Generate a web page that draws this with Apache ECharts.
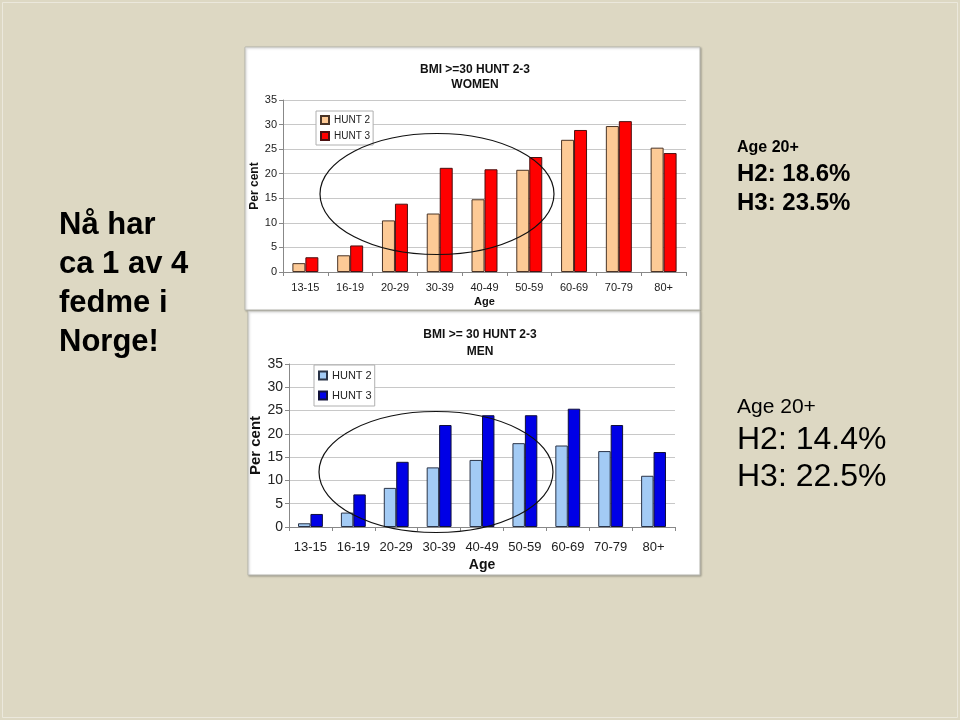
<!DOCTYPE html>
<html><head><meta charset="utf-8">
<script src="https://cdn.jsdelivr.net/npm/echarts@6/dist/echarts.min.js"></script>
<style>html,body{margin:0;padding:0;background:#ddd8c3}#c{width:960px;height:720px}</style>
</head><body><div id="c"></div>
<script>
const categories = ['13-15','16-19','20-29','30-39','40-49','50-59','60-69','70-79','80+'];
const womenHunt2 = [1.8, 3.4, 10.5, 11.9, 14.8, 20.8, 26.9, 29.7, 25.3];
const womenHunt3 = [3.0, 5.4, 13.9, 21.2, 20.9, 23.4, 28.9, 30.7, 24.2];
const menHunt2 = [0.8, 3.1, 8.4, 12.8, 14.4, 18.0, 17.5, 16.3, 11.0];
const menHunt3 = [2.8, 7.0, 14.0, 21.9, 24.0, 24.0, 25.4, 21.9, 16.1];
const yTicks = [0, 5, 10, 15, 20, 25, 30, 35];
const seriesNames = ['HUNT 2', 'HUNT 3'];
const womenTitle = 'BMI >=30 HUNT 2-3\nWOMEN';
const menTitle = 'BMI >= 30 HUNT 2-3\nMEN';
const leftText = 'Nå har\nca 1 av 4\nfedme i\nNorge!';

const SANS = '"Liberation Sans", Arial, Helvetica, sans-serif';
const NARROW = '"Liberation Sans Narrow", "Arial Narrow", "Liberation Sans", sans-serif';

const chart = echarts.init(document.getElementById('c'), null, {renderer: 'canvas'});

function xAxisCfg(gi, font, size, nameSize, nameGap, margin) {
  return {
    type: 'category', gridIndex: gi, data: categories,
    name: 'Age', nameLocation: 'middle', nameGap: nameGap,
    nameTextStyle: {fontFamily: font, fontSize: nameSize, fontWeight: 'bold', color: '#111'},
    axisLine: {lineStyle: {color: '#888'}},
    axisTick: {show: true, length: 4, lineStyle: {color: '#888'}},
    axisLabel: {fontFamily: font, fontSize: size, color: '#222', margin: margin, interval: 0}
  };
}
function yAxisCfg(gi, font, size, nameSize, nameGap) {
  return {
    type: 'value', gridIndex: gi, min: yTicks[0], max: yTicks[yTicks.length-1], interval: 5,
    name: 'Per cent', nameLocation: 'middle', nameGap: nameGap, nameRotate: 90,
    nameTextStyle: {fontFamily: font, fontSize: nameSize, fontWeight: 'bold', color: '#111'},
    axisLine: {show: true, lineStyle: {color: '#888'}},
    axisTick: {show: true, length: 4, lineStyle: {color: '#888'}},
    axisLabel: {fontFamily: font, fontSize: size, color: '#222', margin: 6},
    splitLine: {lineStyle: {color: '#c8c8c8'}}
  };
}

const option = {
  animation: false,
  backgroundColor: '#ddd8c3',
  title: [
    {text: womenTitle, left: 470, top: 57, textAlign: 'center',
     textStyle: {fontFamily: SANS, fontSize: 12, fontWeight: 'bold', lineHeight: 15, color: '#111'}},
    {text: menTitle, left: 475, top: 321, textAlign: 'center',
     textStyle: {fontFamily: NARROW, fontSize: 12, fontWeight: 'bold', lineHeight: 17, color: '#111'}}
  ],
  legend: [
    {data: [seriesNames[0], seriesNames[1]],
     left: 316, top: 111, orient: 'vertical', itemWidth: 8, itemHeight: 8, itemGap: 6,
     padding: [4, 3, 4, 4], backgroundColor: '#fff', borderColor: '#b0b0b0', borderWidth: 1,
     icon: 'rect', textStyle: {fontFamily: SANS, fontSize: 10, color: '#222'}},
    {data: [seriesNames[0] + ' ', seriesNames[1] + ' '],
     formatter: n => n.trim(),
     left: 314, top: 365, orient: 'vertical', itemWidth: 8, itemHeight: 8, itemGap: 9,
     padding: [5, 3, 5, 4], backgroundColor: '#fff', borderColor: '#b0b0b0', borderWidth: 1,
     icon: 'rect', textStyle: {fontFamily: NARROW, fontSize: 11, color: '#222'}}
  ],
  grid: [
    {left: 283, top: 100, width: 403, height: 172},
    {left: 289, top: 364, width: 386, height: 163}
  ],
  xAxis: [xAxisCfg(0, SANS, 11, 11, 24, 10), xAxisCfg(1, NARROW, 13, 14, 31, 14)],
  yAxis: [yAxisCfg(0, SANS, 11, 12, 19), yAxisCfg(1, NARROW, 14, 15, 8)],
  series: [
    {name: seriesNames[0], type: 'bar', xAxisIndex: 0, yAxisIndex: 0, data: womenHunt2,
     barGap: 0, barCategoryGap: '42%', itemStyle: {color: '#fdca96', borderColor: '#4a3426', borderWidth: 1}},
    {name: seriesNames[1], type: 'bar', xAxisIndex: 0, yAxisIndex: 0, data: womenHunt3,
     barGap: 0, barCategoryGap: '42%', itemStyle: {color: '#ff0000', borderColor: '#4a1010', borderWidth: 1}},
    {name: seriesNames[0] + ' ', type: 'bar', xAxisIndex: 1, yAxisIndex: 1, data: menHunt2,
     barGap: 0, barCategoryGap: '42%', itemStyle: {color: '#a3cbf5', borderColor: '#2a3448', borderWidth: 1}},
    {name: seriesNames[1] + ' ', type: 'bar', xAxisIndex: 1, yAxisIndex: 1, data: menHunt3,
     barGap: 0, barCategoryGap: '42%', itemStyle: {color: '#0000e6', borderColor: '#10103a', borderWidth: 1}}
  ],
  graphic: [
    {type: 'rect', z: -10, silent: true, shape: {x: 2.5, y: 2.5, width: 955, height: 715},
     style: {fill: null, stroke: '#ebe8dc', lineWidth: 1}},
    {type: 'rect', z: -5, silent: true, shape: {x: 245, y: 47, width: 455, height: 263},
     style: {fill: '#ffffff', stroke: '#b8b8b0', lineWidth: 1, shadowColor: 'rgba(0,0,0,0.25)', shadowOffsetX: 1, shadowOffsetY: 1, shadowBlur: 2}},
    {type: 'rect', z: -5, silent: true, shape: {x: 248, y: 311, width: 452, height: 264},
     style: {fill: '#ffffff', stroke: '#b8b8b0', lineWidth: 1, shadowColor: 'rgba(0,0,0,0.25)', shadowOffsetX: 1, shadowOffsetY: 1, shadowBlur: 2}},
    {type: 'ellipse', z: 100, silent: true, shape: {cx: 437, cy: 194, rx: 117, ry: 60.5},
     style: {fill: null, stroke: '#111', lineWidth: 1.2}},
    {type: 'ellipse', z: 100, silent: true, shape: {cx: 436, cy: 472, rx: 117, ry: 60.5},
     style: {fill: null, stroke: '#111', lineWidth: 1.2}},
    {type: 'text', left: 59, top: 206, silent: true,
     style: {text: leftText, fontFamily: SANS, fontSize: 31, fontWeight: 'bold', lineHeight: 39, fill: '#000'}},
    {type: 'text', left: 737, top: 140, silent: true,
     style: {text: 'Age 20+', fontFamily: SANS, fontSize: 16, fontWeight: 'bold', fill: '#000'}},
    {type: 'text', left: 737, top: 160, silent: true,
     style: {text: 'H2: 18.6%\nH3: 23.5%', fontFamily: SANS, fontSize: 24, fontWeight: 'bold', lineHeight: 29, fill: '#000'}},
    {type: 'text', left: 737, top: 397, silent: true,
     style: {text: 'Age 20+', fontFamily: SANS, fontSize: 21, fill: '#000'}},
    {type: 'text', left: 737, top: 422, silent: true,
     style: {text: 'H2: 14.4%\nH3: 22.5%', fontFamily: SANS, fontSize: 32, lineHeight: 37, fill: '#000'}}
  ]
};
chart.setOption(option);
</script></body></html>
